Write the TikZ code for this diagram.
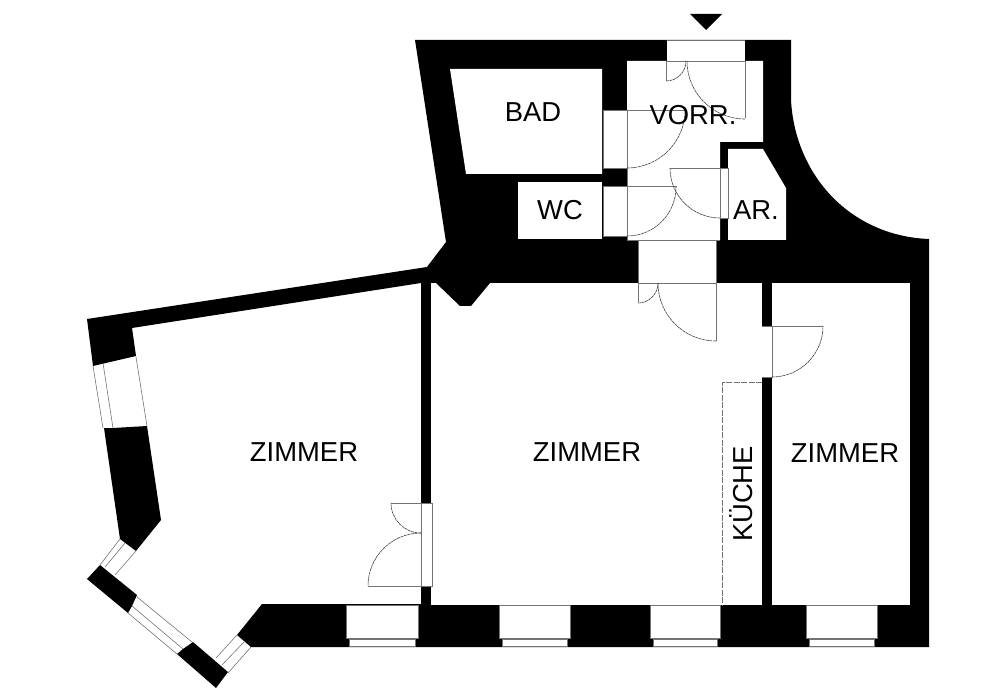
\documentclass[tikz,border=0pt]{standalone}
\usepackage{fontspec}
\setmainfont{Liberation Sans}
\usetikzlibrary{positioning}

\tikzset{
    wall/.style={fill=black, draw=none},
    room/.style={fill=white, draw=none},
    thinline/.style={draw=black!55, line width=0.6pt},
    swing/.style={draw=black!75, line width=0.6pt, densely dashed, dash pattern=on 3pt off 0.6pt},
    roomlabel/.style={font=\fontsize{27.4}{27.4}\selectfont, inner sep=0pt, text=black}
}

\begin{document}
\begin{tikzpicture}[x=1pt, y=-1pt]

        \useasboundingbox (0,0) rectangle (990,700);

        % outline of the flat
        \path[wall] (415,40) -- (791,40) -- (791,100)
            .. controls (795,175) and (850,236) .. (929,239)
            -- (929,647) -- (251,647) -- (237,635) -- (262,604) -- (421,604) -- (421,283)
            -- (132,328) -- (136,356) -- (93,366) -- (87,319) -- (427,267) -- (446,242) -- cycle;

        % bay on the left
        \path[wall] (104,428) -- (113,428) -- (147,426) -- (161,520) -- (136,551) -- (120,539) -- cycle;
        \path[wall] (100,565) -- (137,595) -- (132,606) -- (128,613) -- (87,579) -- cycle;
        \path[wall] (193,642) -- (228,672) -- (216,688) -- (177,654) -- (183,649) -- cycle;

        % rooms
        \path[room] (450,69) -- (602,69) -- (602,174) -- (466,174) -- cycle;
        \path[room] (518,182) rectangle (602,239);
        \path[room] (627,61) -- (763,61) -- (763,142) -- (720,142) -- (720,240) -- (627,240) -- cycle;
        \path[room] (728,149) -- (763,149) -- (786,188) -- (786,240) -- (728,240) -- cycle;
        \path[room] (431,283) rectangle (762,605);
        \path[room] (772,283) rectangle (910,605);

        % pillar in the middle room
        \path[wall] (436,283) -- (460,306) -- (471,306) -- (490,283) -- cycle;

        % openings
        \foreach \xa/\ya/\xb/\yb in {667/40/745/61, 603/110/627/168, 603/186/627/236, 720/168/728/218, 638/240/716/283, 762/326/772/377, 421/503/432/586}
            \path[room] (\xa,\ya) rectangle (\xb,\yb);

        % street side windows
        \foreach \xa/\xb in {346/418, 499/570, 650/720, 806/877} {
            \path[room, draw=black!55, line width=0.6pt] (\xa,605) rectangle (\xb,638);
            \path[room, draw=black!55, line width=0.6pt] ({\xa+3},639) rectangle ({\xb-3},646.5);
        }

        % door frames
        \path[thinline] (667,40) -- (745,40);
        \path[thinline] (666,61) -- (745,61);
        \path[thinline] (603,110) -- (685,110);
        \path[thinline] (603,110) -- (603,168) -- (627,168);
        \path[thinline] (627,110) -- (627,240) -- (720,240);
        \path[thinline] (603,186) -- (677,186);
        \path[thinline] (603,186) -- (603,236) -- (627,236);
        \path[thinline] (670,168) -- (728,168) -- (728,218) -- (720,218) -- (720,168);
        \path[thinline] (638,240) -- (638,283);
        \path[thinline] (716,240) -- (716,283);
        \path[thinline] (638,283) -- (716,283);
        \path[thinline] (772,326) -- (823,326);
        \path[thinline] (762,326) -- (772,326) -- (772,377) -- (762,377);
        \path[thinline] (391,503) -- (432,503) -- (432,586) -- (368,586);
        \path[thinline] (421,503) -- (421,586);

        % door leaves
        \path[thinline] (666,61) -- (666,81);
        \path[thinline] (745,61) -- (745,118);
        \path[thinline] (638,283) -- (638,302);
        \path[thinline] (716,283) -- (716,341);

        % door swings
        \foreach \cx/\cy/\a/\b/\r in {666/61/90/0/20, 745/61/90/180/58, 627/110/90/0/58, 627/187/90/0/49, 720/168/90/180/50, 638/283/90/0/20, 716/283/90/180/58, 772/326/90/0/51, 421/503/90/180/30, 421/586/270/180/53}
            \path[swing] (\cx,\cy) ++(\a:\r) arc (\a:\b:\r);

        % window lines of the left wall
        \path[thinline] (93,366) -- (103,428);
        \path[thinline] (103,363) -- (113,428);
        \path[thinline] (136,357) -- (147,426);
        \path[thinline] (120,539) -- (100,565);
        \path[thinline] (125,543) -- (105,567);
        \path[thinline] (136,551) -- (115,575);
        \path[thinline] (137,597) -- (192,642);
        \path[thinline] (132,606) -- (183,649);
        \path[thinline] (128,613) -- (177,654);
        \path[thinline] (237,635) -- (216,658);
        \path[thinline] (245,641) -- (222,665);
        \path[thinline] (251,647) -- (228,673);

        % kitchen
        \path[thinline, dashed, dash pattern=on 6pt off 1.5pt] (762,382) -- (722,382) -- (722,605);

        % entrance mark
        \path[wall] (690,14) -- (722,14) -- (706,30) -- cycle;

        \node[roomlabel] (zimmerwest) at (304,452) {ZIMMER};
        \node[roomlabel] (zimmermid) at (587,452) {ZIMMER};
        \node[roomlabel] (zimmereast) at (845,453) {ZIMMER};
        \node[roomlabel, rotate=90] (kueche) at (741,494) {KÜCHE};
        \node[roomlabel] (bad) at (533,112) {BAD};
        \node[roomlabel] (vorr) at (693,115) {VORR.};
        \node[roomlabel] (wc) at (560,210) {WC};
        \node[roomlabel] (ar) at (756,210) {AR.};

\end{tikzpicture}
\end{document}
